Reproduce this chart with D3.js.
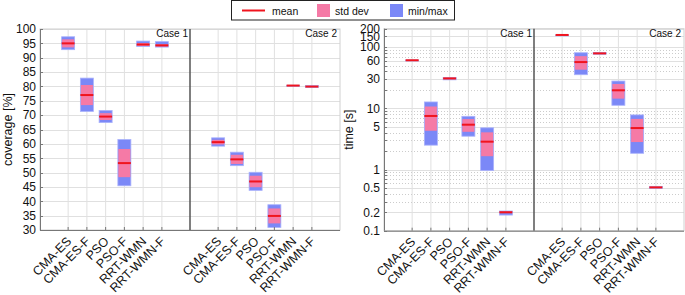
<!DOCTYPE html>
<html>
<head>
<meta charset="utf-8">
<script src="https://cdn.jsdelivr.net/npm/d3@7"></script>
<style>
  body { margin: 0; background: #fff; }
  svg { font-family: "Liberation Sans", Arial, Helvetica, sans-serif; }
</style>
</head>
<body>
<script>
// methods, identical in both cases
const methods = ["CMA-ES", "CMA-ES-F", "PSO", "PSO-F", "RRT-WMN", "RRT-WMN-F"];
const cases = ["Case 1", "Case 2"];

// coverage [%] : case 1 then case 2
const covMean = [95.0, 77.0, 69.5, 53.3, 94.6, 94.3, 60.6, 54.6, 46.9, 34.9, 80.3, 79.95];
const covStd = [1.4, 3.5, 1.2, 4.9, 0.5, 0.4, 0.8, 1.6, 2.0, 2.6, 0.05, 0.15];
const covMin = [92.8, 71.3, 67.4, 45.4, 93.9, 93.7, 59.2, 52.4, 43.8, 30.9, 80.2, 79.6];
const covMax = [97.3, 82.9, 71.6, 61.5, 95.8, 95.6, 62.1, 57.1, 50.1, 38.8, 80.4, 80.3];

// time [s] : case 1 then case 2
const timeMean = [61, 7.5, 30.8, 5.4, 2.85, 0.2, 158, 57, 79, 19.7, 4.76, 0.51];
const timeStd = [0.4, 3.2, 0.8, 1.27, 1.2, 0.006, 0.6, 14.2, 0.8, 5.3, 1.95, 0.01];
const timeMin = [60.4, 2.5, 29.2, 3.5, 0.96, 0.18, 157.5, 35.4, 76.5, 11.2, 1.84, 0.49];
const timeMax = [61.6, 12.7, 31.9, 7.4, 4.8, 0.21, 158.5, 81, 82, 27.9, 7.8, 0.53];

const covTicks = d3.range(30, 101, 5);
const timeTicks = [0.1, 0.2, 0.5, 1, 5, 10, 30, 60, 100, 150, 200];

const legendItems = ["mean", "std dev", "min/max"];

const colMean = "#f0141e";
const colStd = "#f57aa6";
const colMinMax = "#7b88f7";

const width = 685, height = 295;
const svg = d3.select("body").append("svg")
    .attr("width", width)
    .attr("height", height);

// position of each bar on the x axis: case 1 at 1..6, case 2 at 9..14
const slots = d3.range(12).map(i => i < 6 ? i + 1 : i + 3);

function drawPanel(opts) {
    const { x0, x1, y, ticks, minorTicks, label, labelX, mean, std, lo, hi } = opts;
    const x = d3.scaleLinear().domain([-0.5, 15.5]).range([x0, x1]);
    const [yBot, yTop] = y.range();
    const g = svg.append("g");

    // grid
    g.selectAll(".vgrid").data(slots).join("line")
        .attr("x1", d => x(d)).attr("x2", d => x(d))
        .attr("y1", yTop).attr("y2", yBot)
        .attr("stroke", "#e0e0e0").attr("stroke-width", 1);
    if (minorTicks) {
        g.selectAll(".mgrid").data(minorTicks).join("line")
            .attr("x1", x0).attr("x2", x1)
            .attr("y1", d => Math.round(y(d)) + 0.5).attr("y2", d => Math.round(y(d)) + 0.5)
            .attr("stroke", "#cccccc").attr("stroke-width", 1)
            .attr("stroke-dasharray", "1,2");
    }
    g.selectAll(".hgrid").data(ticks).join("line")
        .attr("x1", x0).attr("x2", x1)
        .attr("y1", d => Math.round(y(d)) + 0.5).attr("y2", d => Math.round(y(d)) + 0.5)
        .attr("stroke", "#e0e0e0").attr("stroke-width", 1);

    // box
    g.append("rect")
        .attr("x", x0).attr("y", yTop)
        .attr("width", x1 - x0).attr("height", yBot - yTop)
        .attr("fill", "none").attr("stroke", "#d0d0d0");

    // bars
    const bw = 13;
    const idx = d3.range(mean.length);
    g.selectAll(".mm").data(idx).join("rect")
        .attr("x", i => x(slots[i]) - bw / 2)
        .attr("y", i => y(hi[i]))
        .attr("width", bw)
        .attr("height", i => Math.max(1, y(lo[i]) - y(hi[i])))
        .attr("fill", colMinMax)
        .attr("stroke", "#aab2fb").attr("stroke-width", 0.8);
    g.selectAll(".sd").data(idx).join("rect")
        .attr("x", i => x(slots[i]) - bw / 2 + 0.5)
        .attr("y", i => y(mean[i] + std[i]))
        .attr("width", bw - 1)
        .attr("height", i => Math.max(0.5, y(mean[i] - std[i]) - y(mean[i] + std[i])))
        .attr("fill", colStd);
    g.selectAll(".mn").data(idx).join("line")
        .attr("x1", i => x(slots[i]) - bw / 2)
        .attr("x2", i => x(slots[i]) + bw / 2)
        .attr("y1", i => y(mean[i])).attr("y2", i => y(mean[i]))
        .attr("stroke", colMean).attr("stroke-width", 2);

    // case divider
    g.append("line")
        .attr("x1", x(7.5)).attr("x2", x(7.5))
        .attr("y1", yTop).attr("y2", yBot)
        .attr("stroke", "#555").attr("stroke-width", 1.5);

    // case labels
    g.selectAll(".case").data(cases).join("text")
        .attr("x", (d, i) => i === 0 ? x(7.5) - 2 : x1 - 3)
        .attr("y", yTop + 8)
        .attr("text-anchor", "end")
        .attr("font-size", 10)
        .attr("fill", "#111")
        .text(d => d);

    // axes
    g.append("line")
        .attr("x1", x0 + 0.5).attr("x2", x0 + 0.5)
        .attr("y1", yTop).attr("y2", yBot)
        .attr("stroke", "#777");
    g.append("line")
        .attr("x1", x0).attr("x2", x1)
        .attr("y1", yBot + 0.5).attr("y2", yBot + 0.5)
        .attr("stroke", "#777");

    const allTicks = minorTicks ? ticks.concat(minorTicks) : ticks;
    g.selectAll(".ytk").data(allTicks).join("line")
        .attr("x1", x0).attr("x2", x0 + 3)
        .attr("y1", d => Math.round(y(d)) + 0.5).attr("y2", d => Math.round(y(d)) + 0.5)
        .attr("stroke", "#777");
    g.selectAll(".ylab").data(ticks).join("text")
        .attr("x", x0 - 4)
        .attr("y", d => y(d))
        .attr("dy", "0.36em")
        .attr("text-anchor", "end")
        .attr("font-size", 12)
        .attr("fill", "#111")
        .text(d => String(d));

    g.selectAll(".xtk").data(slots).join("line")
        .attr("x1", d => x(d)).attr("x2", d => x(d))
        .attr("y1", yBot).attr("y2", yBot - 3)
        .attr("stroke", "#777");
    g.selectAll(".xlab").data(idx).join("text")
        .attr("transform", i => `translate(${x(slots[i]) + 4},${yBot + 12}) rotate(-45)`)
        .attr("text-anchor", "end")
        .attr("font-size", 12.5)
        .attr("fill", "#111")
        .text(i => methods[i % 6]);

    g.append("text")
        .attr("transform", `translate(${labelX},${(yTop + yBot) / 2}) rotate(-90)`)
        .attr("text-anchor", "middle")
        .attr("font-size", 12.5)
        .attr("fill", "#111")
        .text(label);
}

// coverage panel
drawPanel({
    x0: 40, x1: 340,
    y: d3.scaleLinear().domain([30, 100]).range([230, 29]),
    ticks: covTicks,
    label: "coverage [%]", labelX: 11.5,
    mean: covMean, std: covStd, lo: covMin, hi: covMax
});

// time panel (log)
const minor = [];
[0.1, 1, 10, 100].forEach(dec => d3.range(2, 10).forEach(k => {
    const v = +(k * dec).toPrecision(3);
    if (v <= 200 && !timeTicks.includes(v)) minor.push(v);
}));
drawPanel({
    x0: 384, x1: 684,
    y: d3.scaleLog().domain([0.1, 200]).range([230.7, 28.7]),
    ticks: timeTicks, minorTicks: minor,
    label: "time [s]", labelX: 353,
    mean: timeMean, std: timeStd, lo: timeMin, hi: timeMax
});

// legend
const lg = svg.append("g");
lg.append("rect")
    .attr("x", 231.5).attr("y", 0.5)
    .attr("width", 223).attr("height", 19.5)
    .attr("fill", "#fff").attr("stroke", "#222").attr("stroke-width", 1);
const lx = [242, 317, 390];
lg.selectAll(".sw").data(legendItems).join(enter => enter.append("g"))
    .each(function (d, i) {
        const s = d3.select(this);
        if (i === 0) {
            s.append("line").attr("x1", lx[i]).attr("x2", lx[i] + 23)
                .attr("y1", 10.5).attr("y2", 10.5)
                .attr("stroke", colMean).attr("stroke-width", 2);
        } else {
            s.append("rect").attr("x", lx[i]).attr("y", 4)
                .attr("width", 13).attr("height", 13)
                .attr("fill", i === 1 ? colStd : colMinMax);
        }
        s.append("text")
            .attr("x", i === 0 ? lx[i] + 30 : lx[i] + 18)
            .attr("y", 14.5)
            .attr("font-size", 10.5)
            .attr("fill", "#111")
            .text(d);
    });
</script>
</body>
</html>
